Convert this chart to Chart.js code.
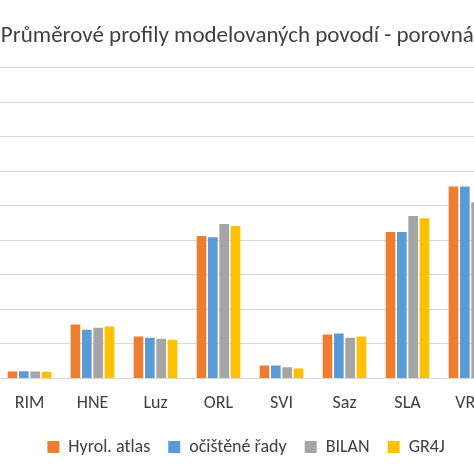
<!DOCTYPE html>
<html><head><meta charset="utf-8">
<script src="https://cdn.jsdelivr.net/npm/chart.js@4"></script>
<style>
html,body{margin:0;padding:0;overflow:hidden;background:#fff;width:474px;height:474px}
#wrap{position:absolute;left:-30px;top:0;width:552px;height:474px}
</style></head><body>
<div id="wrap"><canvas id="myChart"></canvas></div>
<script>
const labels = ['RIM', 'HNE', 'Luz', 'ORL', 'SVI', 'Saz', 'SLA', 'VRA'];
const atlas = [0.20, 1.56, 1.21, 4.12, 0.37, 1.27, 4.24, 5.56];
const ocistene = [0.21, 1.41, 1.18, 4.09, 0.37, 1.30, 4.24, 5.56];
const bilan = [0.20, 1.47, 1.15, 4.47, 0.32, 1.18, 4.70, 5.10];
const gr4j = [0.19, 1.50, 1.12, 4.41, 0.29, 1.21, 4.64, 5.05];

const ctx = document.getElementById('myChart').getContext('2d');
const font = 'Calibri, Carlito, "Liberation Sans", sans-serif';

new Chart(ctx, {
  type: 'bar',
  data: {
    labels,
    datasets: [
      {label: 'Hyrol. atlas', data: atlas, backgroundColor: '#ED7D31'},
      {label: 'očištěné řady', data: ocistene, backgroundColor: '#5B9BD5'},
      {label: 'BILAN', data: bilan, backgroundColor: '#A5A5A5'},
      {label: 'GR4J', data: gr4j, backgroundColor: '#FFC000'},
    ],
  },
  options: {
    responsive: true,
    maintainAspectRatio: false,
    animation: false,
    categoryPercentage: 0.72,
    barPercentage: 0.85,
    layout: {padding: {left: 20, right: 20, top: 0, bottom: 8}},
    plugins: {
      title: {
        display: true,
        text: 'Průměrové profily modelovaných povodí - porovnání',
        color: '#404040',
        font: {family: font, size: 23, weight: 'normal'},
        padding: {top: 22, bottom: 18},
      },
      legend: {
        position: 'bottom',
        labels: {color: '#404040', font: {family: font, size: 18}, boxWidth: 12, boxHeight: 12, padding: 18},
      },
      tooltip: {enabled: false},
    },
    scales: {
      x: {
        grid: {display: false},
        border: {color: '#d9d9d9'},
        ticks: {color: '#404040', font: {family: font, size: 18}, padding: 6},
      },
      y: {
        min: 0,
        max: 9,
        ticks: {display: false, stepSize: 1},
        grid: {color: '#d9d9d9'},
        border: {display: false},
      },
    },
  },
});
</script>
</body></html>
